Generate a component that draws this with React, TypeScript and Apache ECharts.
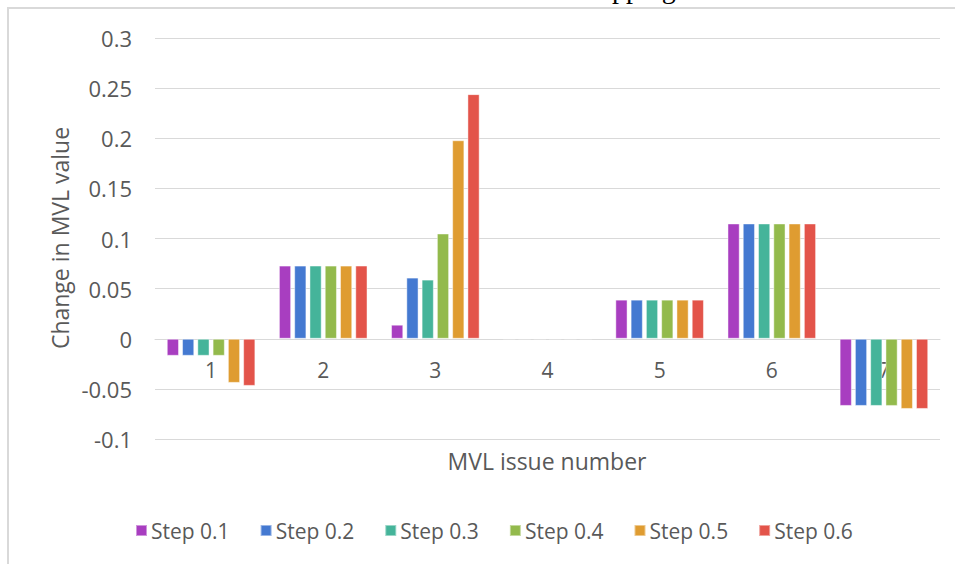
import React, { useEffect, useRef } from "react";
import * as echarts from "echarts";

const categories = ["1", "2", "3", "4", "5", "6", "7"];
const seriesNames = ["Step 0.1", "Step 0.2", "Step 0.3", "Step 0.4", "Step 0.5", "Step 0.6"];
const step01 = [-0.017, 0.073, 0.014, 0, 0.039, 0.115, -0.067];
const step02 = [-0.017, 0.073, 0.061, 0, 0.039, 0.115, -0.067];
const step03 = [-0.017, 0.073, 0.059, 0, 0.039, 0.115, -0.067];
const step04 = [-0.017, 0.073, 0.105, 0, 0.039, 0.115, -0.067];
const step05 = [-0.044, 0.073, 0.198, 0, 0.039, 0.115, -0.07];
const step06 = [-0.047, 0.073, 0.244, 0, 0.039, 0.115, -0.07];
const seriesValues = [step01, step02, step03, step04, step05, step06];
const colors = ["#A83EC0", "#4479D1", "#45B49A", "#93BA4C", "#DF9C31", "#E3544A"];
const yAxisTitle = "Change in MVL value";
const xAxisTitle = "MVL issue number";

const FONT = "'Open Sans', sans-serif";
const TXT = "#595959";

export default function App() {
  const ref = useRef<HTMLDivElement>(null);
  useEffect(() => {
    if (!ref.current) return;
    const chart = echarts.init(ref.current, null, { renderer: "svg" });
    chart.setOption({
      animation: false,
      backgroundColor: "#ffffff",
      color: colors,
      grid: { left: 155, right: 15, top: 38, bottom: 125, containLabel: false },
      graphic: [
        {
          type: "rect",
          shape: { x: 8, y: 8, width: 1200, height: 900 },
          style: { fill: "none", stroke: "#d9d9d9", lineWidth: 2 },
          silent: true,
        },
        {
          type: "text",
          x: 612,
          y: 2,
          style: {
            text: "pping",
            font: "28px 'Liberation Serif', serif",
            fill: "#000",
            verticalAlign: "bottom",
          },
        },
        {
          type: "text",
          x: 60,
          y: 238,
          rotation: Math.PI / 2,
          style: {
            text: yAxisTitle,
            font: `23px ${FONT}`,
            fill: TXT,
            align: "center",
            verticalAlign: "middle",
          },
        },
        {
          type: "text",
          x: 547,
          y: 461,
          style: {
            text: xAxisTitle,
            font: `23px ${FONT}`,
            fill: TXT,
            align: "center",
            verticalAlign: "middle",
          },
        },
      ],
      legend: {
        left: 130,
        top: 515,
        itemWidth: 11,
        itemHeight: 11,
        itemGap: 30,
        icon: "rect",
        textStyle: { fontFamily: FONT, fontSize: 21, color: TXT, padding: [0, 0, 0, -1] },
        data: seriesNames,
      },
      xAxis: {
        type: "category",
        data: categories,
        offset: -100,
        axisLine: { onZero: false, lineStyle: { color: "#d9d9d9", width: 1 } },
        axisTick: { show: false },
        axisLabel: { fontFamily: FONT, fontSize: 21, color: TXT, margin: 20 },
      },
      yAxis: {
        type: "value",
        min: -0.1,
        max: 0.3,
        interval: 0.05,
        axisLine: { show: false },
        axisTick: { show: false },
        splitLine: { lineStyle: { color: "#d9d9d9", width: 1 } },
        axisLabel: {
          fontFamily: FONT,
          fontSize: 22,
          color: TXT,
          margin: 23,
          formatter: (v: number) => String(Math.round(v * 100) / 100),
        },
      },
      series: seriesNames.map((name, i) => ({
        name,
        type: "bar",
        data: seriesValues[i],
        barCategoryGap: "21%",
        barGap: "25%",
        itemStyle: { color: colors[i], borderColor: "rgba(255,255,255,0.45)", borderWidth: 1 },
      })),
    });
    return () => chart.dispose();
  }, []);
  return (
    <div
      ref={ref}
      style={{ position: "absolute", left: 0, top: 0, width: 955, height: 564 }}
    />
  );
}
